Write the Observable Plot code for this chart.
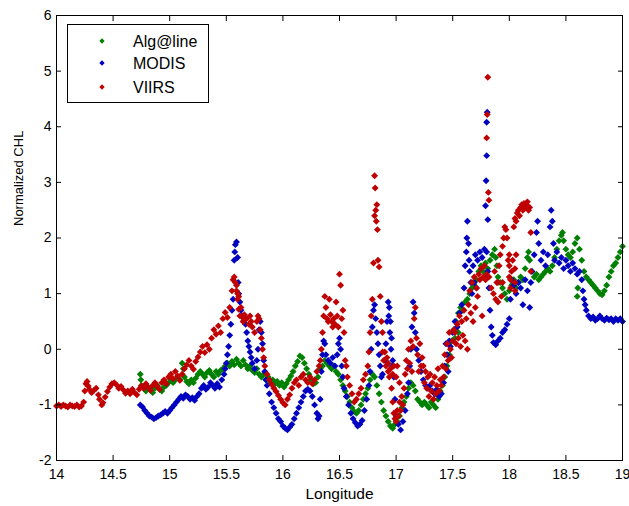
<!DOCTYPE html>
<html><head><meta charset="utf-8">
<script src="https://cdn.jsdelivr.net/npm/d3@7"></script>
<script src="https://cdn.jsdelivr.net/npm/@observablehq/plot@0.6"></script>
<style>body{margin:0;background:#fff}</style>
</head><body><div id="chart"></div>
<script>
const xTicks = [14,14.5,15,15.5,16,16.5,17,17.5,18,18.5,19];
const yTicks = [-2,-1,0,1,2,3,4,5,6];
const seriesNames = ["Alg@line","MODIS","VIIRS"];
const seriesColors = ["#008000","#0000c0","#c00000"];

// [longitude, normalized CHL]
const algline = [
[14.74,-0.45],[14.745,-0.55],[14.75,-0.65],[14.77,-0.7],[14.79,-0.75],[14.81,-0.7],[14.83,-0.72],[14.85,-0.78],[14.87,-0.7],[14.89,-0.65],[14.91,-0.72],[14.93,-0.75],[14.95,-0.68],[14.97,-0.65],[14.99,-0.6],[15.01,-0.55],[15.03,-0.6],[15.05,-0.55],[15.07,-0.5],[15.09,-0.55],[15.11,-0.25],[15.12,-0.35],[15.13,-0.5],[15.15,-0.58],[15.17,-0.62],[15.19,-0.55],[15.21,-0.6],[15.23,-0.52],[15.25,-0.45],[15.27,-0.4],[15.29,-0.45],[15.31,-0.5],[15.33,-0.42],[15.35,-0.38],[15.37,-0.45],[15.39,-0.5],[15.41,-0.4],[15.43,-0.45],[15.45,-0.38],[15.47,-0.35],[15.49,-0.3],[15.51,-0.25],[15.53,-0.3],[15.55,-0.22],[15.57,-0.28],[15.59,-0.18],[15.61,-0.25],[15.63,-0.3],[15.65,-0.2],[15.67,-0.28],[15.69,-0.35],[15.71,-0.3],[15.73,-0.38],[15.75,-0.42],[15.77,-0.35],[15.79,-0.45],[15.81,-0.5],[15.83,-0.45],[15.85,-0.55],[15.87,-0.5],[15.89,-0.6],[15.91,-0.55],[15.93,-0.62],[15.95,-0.58],[15.97,-0.65],[15.99,-0.6],[16.01,-0.68],[16.03,-0.62],[16.05,-0.55],[16.07,-0.48],[16.09,-0.4],[16.11,-0.3],[16.13,-0.22],[16.15,-0.12],[16.17,-0.15],[16.19,-0.25],[16.21,-0.35],[16.23,-0.45],[16.25,-0.55],[16.27,-0.62],[16.29,-0.6],[16.31,-0.5],[16.33,-0.35],[16.35,-0.3],[16.37,-0.2],[16.39,-0.25],[16.41,-0.3],[16.43,-0.35],[16.45,-0.3],[16.47,-0.4],[16.49,-0.45],[16.51,-0.55],[16.53,-0.65],[16.55,-0.75],[16.57,-0.85],[16.59,-0.95],[16.61,-1.05],[16.63,-1.12],[16.65,-1.15],[16.67,-1.1],[16.69,-1.0],[16.71,-0.9],[16.73,-0.8],[16.75,-0.7],[16.77,-0.55],[16.79,-0.45],[16.81,-0.5],[16.83,-0.65],[16.85,-0.8],[16.87,-0.95],[16.89,-1.1],[16.91,-1.2],[16.93,-1.3],[16.95,-1.38],[16.97,-1.42],[16.99,-1.35],[17.01,-1.3],[17.03,-1.2],[17.05,-1.05],[17.07,-0.95],[17.09,-0.85],[17.11,-0.7],[17.13,-0.6],[17.15,-0.65],[17.17,-0.75],[17.19,-0.9],[17.21,-0.95],[17.23,-1.0],[17.25,-0.95],[17.27,-1.0],[17.29,-1.05],[17.31,-0.95],[17.33,-1.0],[17.35,-1.05],[17.37,-0.9],[17.39,-0.75],[17.41,-0.65],[17.43,-0.5],[17.45,-0.3],[17.47,-0.1],[17.49,0.15],[17.51,0.35],[17.52,0.2],[17.53,0.5],[17.55,0.65],[17.55,0.3],[17.57,0.75],[17.59,0.7],[17.61,0.85],[17.63,0.9],[17.65,1.0],[17.67,1.1],[17.69,1.15],[17.71,1.25],[17.73,1.4],[17.75,1.5],[17.77,1.4],[17.79,1.55],[17.81,1.45],[17.83,1.6],[17.85,1.7],[17.87,1.8],[17.88,1.65],[17.89,1.5],[17.90,1.3],[17.92,1.2],[17.94,1.1],[17.96,1.0],[17.98,0.9],[18.00,1.05],[18.02,1.15],[18.04,1.25],[18.06,1.1],[18.08,1.2],[18.10,1.3],[18.12,1.25],[18.14,1.45],[18.16,1.65],[18.17,1.75],[18.18,1.6],[18.20,1.4],[18.22,1.3],[18.24,1.35],[18.26,1.25],[18.28,1.3],[18.30,1.35],[18.32,1.4],[18.34,1.45],[18.36,1.4],[18.38,1.5],[18.40,1.65],[18.42,1.8],[18.44,1.95],[18.46,2.05],[18.47,2.1],[18.48,1.95],[18.50,1.8],[18.52,1.7],[18.54,1.65],[18.56,1.75],[18.58,1.9],[18.60,2.0],[18.60,0.95],[18.605,1.1],[18.62,1.8],[18.64,1.6],[18.66,1.4],[18.68,1.3],[18.70,1.25],[18.72,1.2],[18.74,1.15],[18.76,1.1],[18.78,1.05],[18.80,1.0],[18.82,0.98],[18.84,1.05],[18.86,1.15],[18.88,1.3],[18.90,1.4],[18.92,1.5],[18.94,1.55],[18.96,1.65],[18.98,1.75],[19.00,1.85]
];

const modis = [
[14.74,-1.0],[14.76,-1.04],[14.78,-1.1],[14.80,-1.15],[14.82,-1.2],[14.84,-1.22],[14.86,-1.25],[14.88,-1.23],[14.90,-1.2],[14.92,-1.18],[14.94,-1.15],[14.96,-1.12],[14.98,-1.15],[15.00,-1.1],[15.02,-1.05],[15.04,-1.0],[15.06,-0.95],[15.08,-0.9],[15.10,-0.85],[15.12,-0.88],[15.14,-0.82],[15.16,-0.85],[15.18,-0.9],[15.20,-0.87],[15.22,-0.92],[15.24,-0.85],[15.26,-0.8],[15.28,-0.7],[15.30,-0.65],[15.32,-0.72],[15.34,-0.68],[15.36,-0.6],[15.38,-0.65],[15.40,-0.7],[15.42,-0.62],[15.44,-0.68],[15.46,-0.55],[15.48,-0.45],[15.49,-0.35],[15.50,-0.25],[15.51,-0.1],[15.52,0.05],[15.53,0.25],[15.54,0.45],[15.55,0.7],[15.56,0.9],[15.57,1.6],[15.575,1.75],[15.58,1.88],[15.59,1.93],[15.60,1.65],[15.605,1.2],[15.61,1.0],[15.62,0.85],[15.63,0.7],[15.64,0.6],[15.65,0.5],[15.66,0.55],[15.67,0.45],[15.68,0.3],[15.69,0.15],[15.70,0.05],[15.71,-0.05],[15.72,-0.15],[15.73,-0.25],[15.75,-0.35],[15.77,-0.2],[15.78,0.0],[15.79,0.35],[15.80,0.5],[15.81,0.3],[15.82,0.1],[15.83,-0.2],[15.84,-0.4],[15.85,-0.55],[15.86,-0.65],[15.88,-0.8],[15.90,-0.95],[15.92,-1.05],[15.94,-1.15],[15.96,-1.25],[15.98,-1.3],[16.00,-1.38],[16.02,-1.42],[16.04,-1.45],[16.06,-1.4],[16.08,-1.35],[16.10,-1.25],[16.12,-1.15],[16.14,-1.05],[16.16,-0.95],[16.18,-0.85],[16.20,-0.75],[16.22,-0.72],[16.24,-0.75],[16.26,-0.85],[16.28,-1.0],[16.30,-1.15],[16.31,-1.25],[16.32,-1.2],[16.33,-0.9],[16.34,-0.4],[16.35,-0.1],[16.36,0.15],[16.37,0.1],[16.38,-0.1],[16.40,-0.2],[16.42,-0.25],[16.44,-0.15],[16.46,-0.3],[16.48,-0.1],[16.49,0.1],[16.50,0.2],[16.51,0.0],[16.52,-0.3],[16.53,-0.5],[16.54,-0.7],[16.56,-0.85],[16.58,-1.0],[16.60,-1.15],[16.62,-1.25],[16.64,-1.32],[16.66,-1.38],[16.68,-1.35],[16.70,-1.28],[16.72,-1.1],[16.74,-0.9],[16.76,-0.65],[16.77,-0.4],[16.78,0.0],[16.79,0.4],[16.80,0.7],[16.81,0.8],[16.82,0.55],[16.83,0.3],[16.84,0.1],[16.85,-0.1],[16.86,-0.3],[16.87,-0.5],[16.88,-0.45],[16.90,-0.2],[16.91,0.1],[16.92,0.5],[16.93,0.85],[16.935,0.6],[16.94,0.75],[16.945,0.3],[16.95,0.5],[16.955,0.0],[16.96,0.2],[16.965,-0.3],[16.97,-0.2],[16.98,-0.5],[16.99,-0.9],[17.00,-1.2],[17.02,-1.35],[17.04,-1.45],[17.06,-1.3],[17.08,-1.1],[17.10,-0.8],[17.11,-0.6],[17.12,-0.3],[17.13,0.0],[17.14,0.4],[17.15,0.85],[17.16,0.65],[17.17,0.3],[17.18,0.0],[17.20,-0.2],[17.22,-0.4],[17.24,-0.55],[17.26,-0.65],[17.28,-0.7],[17.30,-0.65],[17.32,-0.75],[17.34,-0.8],[17.36,-0.72],[17.38,-0.85],[17.40,-0.8],[17.42,-0.6],[17.43,-0.3],[17.44,0.1],[17.45,-0.1],[17.46,-0.4],[17.47,0.15],[17.48,0.05],[17.50,0.3],[17.52,0.5],[17.54,0.4],[17.56,0.65],[17.58,0.8],[17.60,1.1],[17.61,1.5],[17.62,1.75],[17.625,2.0],[17.63,2.3],[17.64,1.9],[17.645,1.6],[17.65,1.4],[17.66,1.2],[17.67,1.0],[17.68,1.5],[17.69,1.2],[17.70,1.7],[17.71,1.1],[17.72,1.6],[17.74,1.75],[17.76,1.65],[17.78,1.8],[17.79,2.58],[17.795,3.03],[17.80,3.48],[17.80,4.08],[17.805,4.26],[17.81,2.33],[17.80,1.75],[17.81,1.4],[17.82,1.1],[17.83,0.7],[17.84,0.4],[17.85,0.25],[17.86,0.12],[17.88,0.08],[17.90,0.15],[17.92,0.2],[17.94,0.3],[17.96,0.35],[17.98,0.45],[18.00,0.55],[18.01,0.9],[18.02,1.25],[18.04,1.15],[18.06,1.0],[18.08,1.2],[18.10,1.1],[18.12,0.8],[18.14,1.25],[18.16,1.05],[18.18,0.75],[18.19,1.2],[18.20,1.4],[18.22,1.7],[18.24,2.1],[18.25,2.3],[18.26,1.9],[18.28,1.6],[18.30,1.75],[18.32,1.5],[18.34,1.7],[18.36,2.2],[18.37,2.5],[18.38,2.3],[18.39,1.9],[18.40,1.6],[18.42,1.75],[18.44,1.55],[18.46,1.65],[18.48,1.45],[18.50,1.6],[18.52,1.5],[18.54,1.4],[18.56,1.55],[18.58,1.45],[18.60,1.35],[18.62,1.4],[18.64,1.25],[18.65,1.05],[18.66,0.9],[18.67,0.8],[18.68,0.7],[18.70,0.6],[18.72,0.55],[18.74,0.58],[18.76,0.52],[18.78,0.55],[18.80,0.6],[18.82,0.55],[18.84,0.52],[18.86,0.56],[18.88,0.53],[18.90,0.55],[18.92,0.5],[18.94,0.55],[18.96,0.52],[18.98,0.55],[19.00,0.5]
];

const viirs = [
[14.00,-1.02],[14.02,-1.0],[14.04,-1.03],[14.06,-1.0],[14.08,-1.02],[14.10,-1.04],[14.12,-1.0],[14.14,-1.02],[14.16,-1.03],[14.18,-1.0],[14.20,-1.04],[14.22,-1.02],[14.24,-0.95],[14.25,-0.75],[14.26,-0.62],[14.27,-0.58],[14.28,-0.66],[14.29,-0.72],[14.31,-0.78],[14.33,-0.74],[14.35,-0.7],[14.37,-0.82],[14.38,-0.9],[14.40,-1.0],[14.41,-0.96],[14.43,-0.86],[14.45,-0.76],[14.47,-0.68],[14.49,-0.62],[14.51,-0.6],[14.53,-0.64],[14.55,-0.7],[14.57,-0.67],[14.59,-0.73],[14.61,-0.79],[14.63,-0.75],[14.65,-0.8],[14.67,-0.72],[14.69,-0.78],[14.71,-0.82],[14.73,-0.72],[14.75,-0.66],[14.77,-0.7],[14.79,-0.62],[14.81,-0.68],[14.83,-0.74],[14.85,-0.65],[14.87,-0.6],[14.89,-0.67],[14.91,-0.72],[14.93,-0.6],[14.95,-0.55],[14.97,-0.62],[14.99,-0.5],[15.01,-0.45],[15.03,-0.53],[15.05,-0.4],[15.07,-0.48],[15.09,-0.56],[15.11,-0.45],[15.13,-0.35],[15.15,-0.28],[15.17,-0.2],[15.19,-0.3],[15.21,-0.36],[15.23,-0.22],[15.25,-0.14],[15.27,-0.05],[15.29,0.05],[15.31,-0.06],[15.33,0.08],[15.35,0.0],[15.37,0.2],[15.39,0.35],[15.41,0.27],[15.43,0.42],[15.45,0.3],[15.47,0.55],[15.49,0.66],[15.51,0.57],[15.53,0.75],[15.55,1.05],[15.56,1.25],[15.57,1.3],[15.58,1.2],[15.59,1.05],[15.59,1.15],[15.60,0.9],[15.60,1.0],[15.61,0.72],[15.61,0.95],[15.62,0.6],[15.63,0.75],[15.64,0.58],[15.65,0.5],[15.66,0.62],[15.68,0.55],[15.70,0.45],[15.71,0.6],[15.72,0.5],[15.73,0.4],[15.75,0.3],[15.77,0.5],[15.78,0.6],[15.79,0.55],[15.80,0.35],[15.81,0.2],[15.82,0.0],[15.83,-0.15],[15.84,-0.3],[15.86,-0.45],[15.88,-0.55],[15.90,-0.63],[15.92,-0.7],[15.94,-0.76],[15.96,-0.83],[15.98,-0.9],[16.00,-0.96],[16.02,-1.0],[16.04,-0.9],[16.06,-0.82],[16.08,-0.7],[16.10,-0.6],[16.12,-0.55],[16.14,-0.65],[16.16,-0.5],[16.18,-0.45],[16.20,-0.55],[16.22,-0.6],[16.24,-0.5],[16.26,-0.62],[16.28,-0.55],[16.30,-0.4],[16.32,-0.3],[16.33,-0.2],[16.34,0.0],[16.35,0.3],[16.36,0.6],[16.37,0.95],[16.38,0.75],[16.39,0.55],[16.40,0.5],[16.41,0.9],[16.42,0.62],[16.43,0.5],[16.44,0.4],[16.45,0.55],[16.46,0.45],[16.47,0.85],[16.48,0.6],[16.49,0.4],[16.50,1.35],[16.51,1.15],[16.52,0.55],[16.53,0.7],[16.54,0.3],[16.55,-0.2],[16.56,-0.3],[16.57,-0.5],[16.59,-0.65],[16.61,-0.8],[16.63,-0.95],[16.65,-0.9],[16.67,-0.8],[16.69,-0.7],[16.71,-0.55],[16.73,-0.45],[16.75,-0.3],[16.76,-0.05],[16.77,0.3],[16.78,0.6],[16.79,0.9],[16.80,1.55],[16.81,2.4],[16.81,3.12],[16.815,2.9],[16.82,2.5],[16.825,2.3],[16.83,2.6],[16.835,2.15],[16.84,1.6],[16.85,1.48],[16.86,0.95],[16.87,0.5],[16.88,0.3],[16.88,-0.05],[16.89,-0.2],[16.90,-0.05],[16.91,-0.3],[16.92,-0.15],[16.93,-0.4],[16.93,-0.25],[16.94,-0.5],[16.95,-0.35],[16.96,-0.7],[16.97,-0.95],[16.97,-0.45],[16.98,-1.15],[16.98,-0.3],[16.99,-1.25],[17.00,-1.3],[17.00,-0.5],[17.01,-1.1],[17.01,-0.3],[17.02,-1.2],[17.03,-0.95],[17.03,-0.6],[17.04,-1.1],[17.05,-0.85],[17.06,-1.0],[17.07,-0.7],[17.08,-0.45],[17.09,-0.2],[17.10,-0.35],[17.11,0.0],[17.12,-0.25],[17.13,0.15],[17.14,-0.4],[17.15,0.05],[17.16,0.55],[17.17,0.75],[17.18,0.2],[17.19,-0.1],[17.20,-0.4],[17.21,0.1],[17.22,-0.3],[17.23,-0.15],[17.24,-0.3],[17.25,-0.6],[17.26,-0.4],[17.27,-0.7],[17.28,-0.5],[17.29,-0.85],[17.30,-0.45],[17.31,-0.75],[17.32,-0.6],[17.33,-0.9],[17.34,-0.5],[17.35,-0.8],[17.36,-0.65],[17.37,-0.35],[17.38,-0.75],[17.39,-0.55],[17.40,-0.65],[17.41,-0.3],[17.42,-0.5],[17.43,-0.1],[17.44,-0.35],[17.45,0.1],[17.46,-0.2],[17.47,0.3],[17.48,0.0],[17.49,-0.15],[17.50,0.15],[17.51,0.35],[17.52,0.3],[17.53,0.1],[17.54,0.45],[17.55,0.2],[17.56,0.6],[17.57,0.05],[17.58,0.5],[17.59,0.25],[17.60,0.7],[17.61,0.15],[17.62,0.55],[17.63,0.0],[17.64,0.8],[17.65,1.05],[17.66,0.65],[17.67,1.2],[17.68,0.5],[17.69,1.3],[17.70,0.75],[17.71,1.1],[17.72,0.95],[17.73,1.35],[17.74,1.25],[17.75,1.45],[17.76,0.6],[17.77,1.3],[17.78,1.5],[17.79,1.25],[17.80,1.35],[17.80,3.8],[17.805,4.22],[17.81,4.89],[17.815,2.82],[17.82,2.68],[17.82,1.3],[17.84,1.1],[17.86,1.0],[17.87,1.4],[17.88,0.9],[17.89,1.2],[17.90,0.85],[17.90,1.2],[17.91,1.5],[17.92,1.7],[17.93,0.95],[17.94,1.85],[17.94,1.2],[17.95,2.0],[17.96,2.2],[17.97,2.15],[17.98,2.0],[17.99,1.6],[18.00,1.3],[18.00,1.5],[18.00,1.7],[18.01,1.1],[18.01,1.25],[18.02,1.4],[18.03,1.6],[18.04,2.2],[18.05,1.05],[18.05,1.2],[18.05,1.45],[18.05,2.35],[18.06,1.7],[18.06,2.3],[18.07,2.45],[18.08,2.5],[18.09,2.4],[18.10,2.55],[18.11,2.6],[18.12,2.5],[18.13,2.62],[18.14,2.55],[18.15,2.6],[18.16,2.65],[18.17,2.5],[18.18,2.55],[18.19,2.1],[18.19,1.4]
];

const rows = [];
[algline, modis, viirs].forEach((arr, i) =>
  arr.forEach(([lon, v]) => rows.push({lon, v, s: seriesNames[i]})));

const font = "'Liberation Sans', Arial, Helvetica, sans-serif";
const chart = Plot.plot({
  width: 629, height: 506,
  marginLeft: 56, marginRight: 7, marginTop: 15, marginBottom: 46,
  style: {fontFamily: font, fontSize: "14px", color: "#000", background: "#fff"},
  x: {domain: [14, 19]},
  y: {domain: [-2, 6]},
  color: {domain: seriesNames, range: seriesColors},
  marks: [
    Plot.axisX(xTicks, {anchor: "bottom", tickSize: 0, tickPadding: 9, tickFormat: d => String(d), label: null}),
    Plot.axisY(yTicks, {anchor: "left", tickSize: 0, tickPadding: 5, tickFormat: d => String(d), label: null}),
    Plot.dot(rows, {x: "lon", y: "v", fill: "s", symbol: "diamond2", r: 3.1}),
    Plot.axisX(xTicks, {anchor: "bottom", tickSize: 5, dy: -5, fill: "none", label: null}),
    Plot.axisX(xTicks, {anchor: "top", tickSize: 5, dy: 5, fill: "none", label: null}),
    Plot.axisY(yTicks, {anchor: "left", tickSize: 5, dx: 5, fill: "none", label: null}),
    Plot.axisY(yTicks, {anchor: "right", tickSize: 5, dx: -5, fill: "none", label: null}),
    Plot.frame({stroke: "#000"}),
    Plot.text(["Longitude"], {frameAnchor: "bottom", dy: 27, lineAnchor: "top", fontSize: 15.5}),
    Plot.text(["Normalized CHL"], {frameAnchor: "left", dx: -38, dy: -12, rotate: -90, lineAnchor: "middle", fontSize: 13})
  ]
});

// legend box
const svg = d3.select(chart);
const lg = svg.append("g").attr("font-family", font).attr("text-anchor", "start");
lg.append("rect").attr("x", 67.5).attr("y", 24.5).attr("width", 141).attr("height", 78)
  .attr("fill", "#fff").attr("stroke", "#000");
const legendRows = [41, 63, 87];
seriesNames.forEach((name, i) => {
  lg.append("path").attr("d", d3.symbol(d3.symbolDiamond2, 18)())
    .attr("transform", `translate(102,${legendRows[i]})`).attr("fill", seriesColors[i]);
  lg.append("text").attr("x", 133).attr("y", legendRows[i]).attr("dy", "0.35em")
    .attr("text-anchor", "start").attr("font-size", 16).attr("fill", "#000").text(name);
});
document.getElementById("chart").appendChild(chart);
</script>
</body></html>
